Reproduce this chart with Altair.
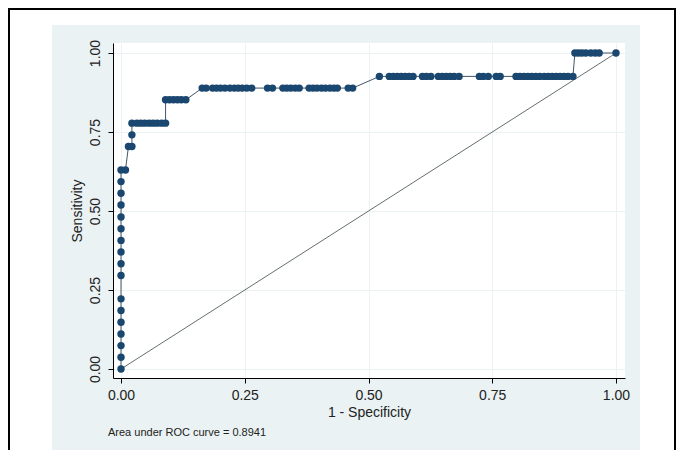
import altair as alt
import pandas as pd

# ROC curve points (1 - specificity, sensitivity)
fpr = [0, 0, 0, 0, 0, 0, 0, 0, 0, 0, 0, 0, 0, 0, 0, 0, 0, 0.009,
       0.015, 0.022, 0.022, 0.022,
       0.032, 0.040, 0.048, 0.057, 0.065, 0.073, 0.082, 0.090,
       0.090, 0.098, 0.106, 0.114, 0.122, 0.131,
       0.164, 0.172, 0.185, 0.193, 0.201, 0.210, 0.220, 0.229, 0.237, 0.245,
       0.254, 0.264, 0.296, 0.306, 0.327, 0.335, 0.343, 0.352, 0.360,
       0.380, 0.388, 0.396, 0.405, 0.413, 0.422, 0.430, 0.437, 0.459, 0.468,
       0.522, 0.542, 0.550, 0.558, 0.566, 0.574, 0.582, 0.590,
       0.609, 0.617, 0.626, 0.641, 0.649, 0.657, 0.665, 0.673, 0.683,
       0.724, 0.732, 0.742, 0.758, 0.766,
       0.798, 0.806, 0.814, 0.822, 0.830, 0.838, 0.846, 0.855, 0.863,
       0.871, 0.879, 0.887, 0.895, 0.903, 0.913,
       0.917, 0.924, 0.931, 0.939, 0.949, 0.958, 0.966, 1.0]
tpr = [0.000, 0.037, 0.074, 0.111, 0.148, 0.185, 0.222, 0.296, 0.333,
       0.370, 0.407, 0.444, 0.481, 0.519, 0.556, 0.593, 0.630, 0.630,
       0.704, 0.704, 0.741, 0.778,
       0.778, 0.778, 0.778, 0.778, 0.778, 0.778, 0.778, 0.778,
       0.852, 0.852, 0.852, 0.852, 0.852, 0.852,
       0.889, 0.889, 0.889, 0.889, 0.889, 0.889, 0.889, 0.889, 0.889, 0.889,
       0.889, 0.889, 0.889, 0.889, 0.889, 0.889, 0.889, 0.889, 0.889,
       0.889, 0.889, 0.889, 0.889, 0.889, 0.889, 0.889, 0.889, 0.889, 0.889,
       0.926, 0.926, 0.926, 0.926, 0.926, 0.926, 0.926, 0.926,
       0.926, 0.926, 0.926, 0.926, 0.926, 0.926, 0.926, 0.926, 0.926,
       0.926, 0.926, 0.926, 0.926, 0.926,
       0.926, 0.926, 0.926, 0.926, 0.926, 0.926, 0.926, 0.926, 0.926,
       0.926, 0.926, 0.926, 0.926, 0.926, 0.926,
       1.0, 1.0, 1.0, 1.0, 1.0, 1.0, 1.0, 1.0]

ref_x = [0.0, 1.0]
ref_y = [0.0, 1.0]
tick_values = [0.0, 0.25, 0.5, 0.75, 1.0]
x_title = "1 - Specificity"
y_title = "Sensitivity"
note_text = ["Area under ROC curve = 0.8941"]

FONT = "Liberation Sans"
NAVY = "#1a476f"
REGION = "#eaf2f3"
W, H = 512, 335
XDOM = [-0.0162, 1.0182]
YDOM = [-0.0285, 1.0317]

roc = pd.DataFrame({"fpr": fpr, "tpr": tpr, "order": list(range(len(fpr)))})
ref = pd.DataFrame({"fpr": ref_x, "tpr": ref_y})
one = pd.DataFrame({"a": [0]})

xs = alt.Scale(domain=XDOM, nice=False, zero=False)
ys = alt.Scale(domain=YDOM, nice=False, zero=False)

x_axis = alt.Axis(values=tick_values, format=".2f", title=x_title,
                  labelFontSize=14, titleFontSize=14, labelFont=FONT, titleFont=FONT,
                  titleFontWeight="normal", labelColor="#222", titleColor="#222",
                  domainColor="#000", tickColor="#000", tickSize=5, labelPadding=5,
                  titlePadding=3, grid=True, gridColor=REGION, gridWidth=1,
                  labelFlush=False)
y_axis = alt.Axis(values=tick_values, format=".2f", title=y_title,
                  labelFontSize=14, titleFontSize=14, labelFont=FONT, titleFont=FONT,
                  titleFontWeight="normal", labelColor="#222", titleColor="#222",
                  domainColor="#000", tickColor="#000", tickSize=5, labelPadding=6,
                  labelAngle=270, titlePadding=4, grid=True, gridColor=REGION,
                  gridWidth=1, labelFlush=False)

# frame decorations (white margin around the light graph region and the black border)
left_strip = alt.Chart(one).mark_rect(color="white").encode(
    x=alt.value(-105), x2=alt.value(-61), y=alt.value(-35), y2=alt.value(420))
right_strip = alt.Chart(one).mark_rect(color="white").encode(
    x=alt.value(527), x2=alt.value(570), y=alt.value(-35), y2=alt.value(420))
top_strip = alt.Chart(one).mark_rect(color="white").encode(
    x=alt.value(-105), x2=alt.value(570), y=alt.value(-35), y2=alt.value(-18))
border = alt.Chart(one).mark_rect(fill=None, stroke="#000", strokeWidth=2).encode(
    x=alt.value(-104), x2=alt.value(562), y=alt.value(-34), y2=alt.value(440))

diag = alt.Chart(ref).mark_line(color="#3b4a46", strokeWidth=0.8).encode(
    x=alt.X("fpr:Q", scale=xs, axis=x_axis),
    y=alt.Y("tpr:Q", scale=ys, axis=y_axis))

curve = alt.Chart(roc).mark_line(color="#2c4258", strokeWidth=0.9).encode(
    x=alt.X("fpr:Q", scale=xs),
    y=alt.Y("tpr:Q", scale=ys),
    order="order:Q")

pts = alt.Chart(roc).mark_point(filled=True, color=NAVY, size=55, opacity=1,
                                shape="circle").encode(
    x=alt.X("fpr:Q", scale=xs),
    y=alt.Y("tpr:Q", scale=ys))

note = alt.Chart(pd.DataFrame({"t": note_text})).mark_text(
    align="left", baseline="middle", font=FONT, fontSize=11, color="#222").encode(
    x=alt.value(-5), y=alt.value(390), text="t:N")

chart = alt.layer(left_strip, right_strip, top_strip, border, diag, curve, pts, note).properties(
    width=W, height=H,
    autosize=alt.AutoSizeParams(type="none"),
    padding={"left": 105, "top": 35, "right": 51, "bottom": 72},
    background=REGION,
).configure_view(fill="white", stroke=None)

chart.save("out.html", embed_options={"renderer": "svg", "actions": False})
